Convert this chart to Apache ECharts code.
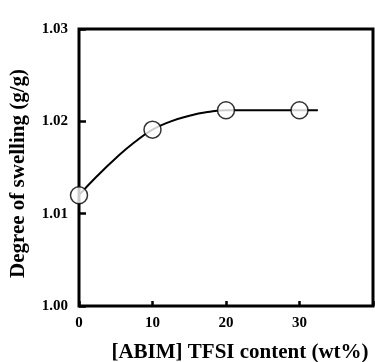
<!DOCTYPE html>
<html>
<head>
<meta charset="utf-8">
<script src="https://cdn.jsdelivr.net/npm/echarts@6/dist/echarts.min.js"></script>
<style>
html,body{margin:0;padding:0;background:#fff;}
#chart{width:375px;height:362px;}
</style>
</head>
<body>
<div id="chart"></div>
<script>
// Measured swelling degree vs. ionic liquid content
const contentWt = [0, 10, 20, 30];
const swelling = [1.0120, 1.0191, 1.0212, 1.0212];
// Hand-drawn guide curve through the measurements, running a little past the last point
const fitX = [0, 2.5, 5, 7.5, 10, 12.5, 15, 17.5, 20, 25, 30, 32.5];
const fitY = [1.0120, 1.0141, 1.0160, 1.0177, 1.0191, 1.0200, 1.0206, 1.0210, 1.0212, 1.0212, 1.0212, 1.0212];
const xTicks = [0, 10, 20, 30];
const yTicks = [1.00, 1.01, 1.02, 1.03];

const font = '"Liberation Serif", "Times New Roman", serif';
const chart = echarts.init(document.getElementById('chart'));
chart.setOption({
  animation: false,
  grid: {
    left: 79, right: 2, top: 29, bottom: 56,
    outerBoundsMode: 'none',
    containLabel: false,
    show: true, borderColor: '#000', borderWidth: 3, backgroundColor: 'transparent'
  },
  xAxis: {
    type: 'value', min: 0, max: 40, interval: 10,
    name: '[ABIM] TFSI content (wt%)',
    nameLocation: 'middle', nameGap: 36,
    nameTextStyle: { fontFamily: font, fontWeight: 'bold', fontSize: 21, color: '#000', padding: [0, 0, 0, 28] },
    axisLine: { show: false },
    axisTick: { show: true, inside: true, length: 5, lineStyle: { color: '#000', width: 2.5 } },
    splitLine: { show: false },
    axisLabel: {
      fontFamily: font, fontWeight: 'bold', fontSize: 15, color: '#000', margin: 10,
      formatter: v => xTicks.includes(v) ? String(v) : ''
    }
  },
  yAxis: {
    type: 'value', min: 1.00, max: 1.03, interval: 0.01,
    name: 'Degree of swelling (g/g)',
    nameLocation: 'middle', nameGap: 50,
    nameTextStyle: { fontFamily: font, fontWeight: 'bold', fontSize: 21, color: '#000', padding: [0, 12, 0, 0] },
    axisLine: { show: false },
    axisTick: { show: true, inside: true, length: 7, lineStyle: { color: '#000', width: 2.5 } },
    splitLine: { show: false },
    axisLabel: {
      fontFamily: font, fontWeight: 'bold', fontSize: 15, color: '#000', margin: 11,
      formatter: v => yTicks.find(t => Math.abs(t - v) < 1e-6)?.toFixed(2) ?? ''
    }
  },
  series: [
    {
      type: 'line',
      data: fitX.map((x, i) => [x, fitY[i]]),
      smooth: 0.5,
      showSymbol: false,
      lineStyle: { color: '#000', width: 2 },
      z: 2
    },
    {
      type: 'scatter',
      data: contentWt.map((x, i) => [x, swelling[i]]),
      symbol: 'circle',
      symbolSize: 17,
      itemStyle: { color: '#fff', borderColor: '#000', borderWidth: 1.5 },
      z: 3
    }
  ]
});
</script>
</body>
</html>
